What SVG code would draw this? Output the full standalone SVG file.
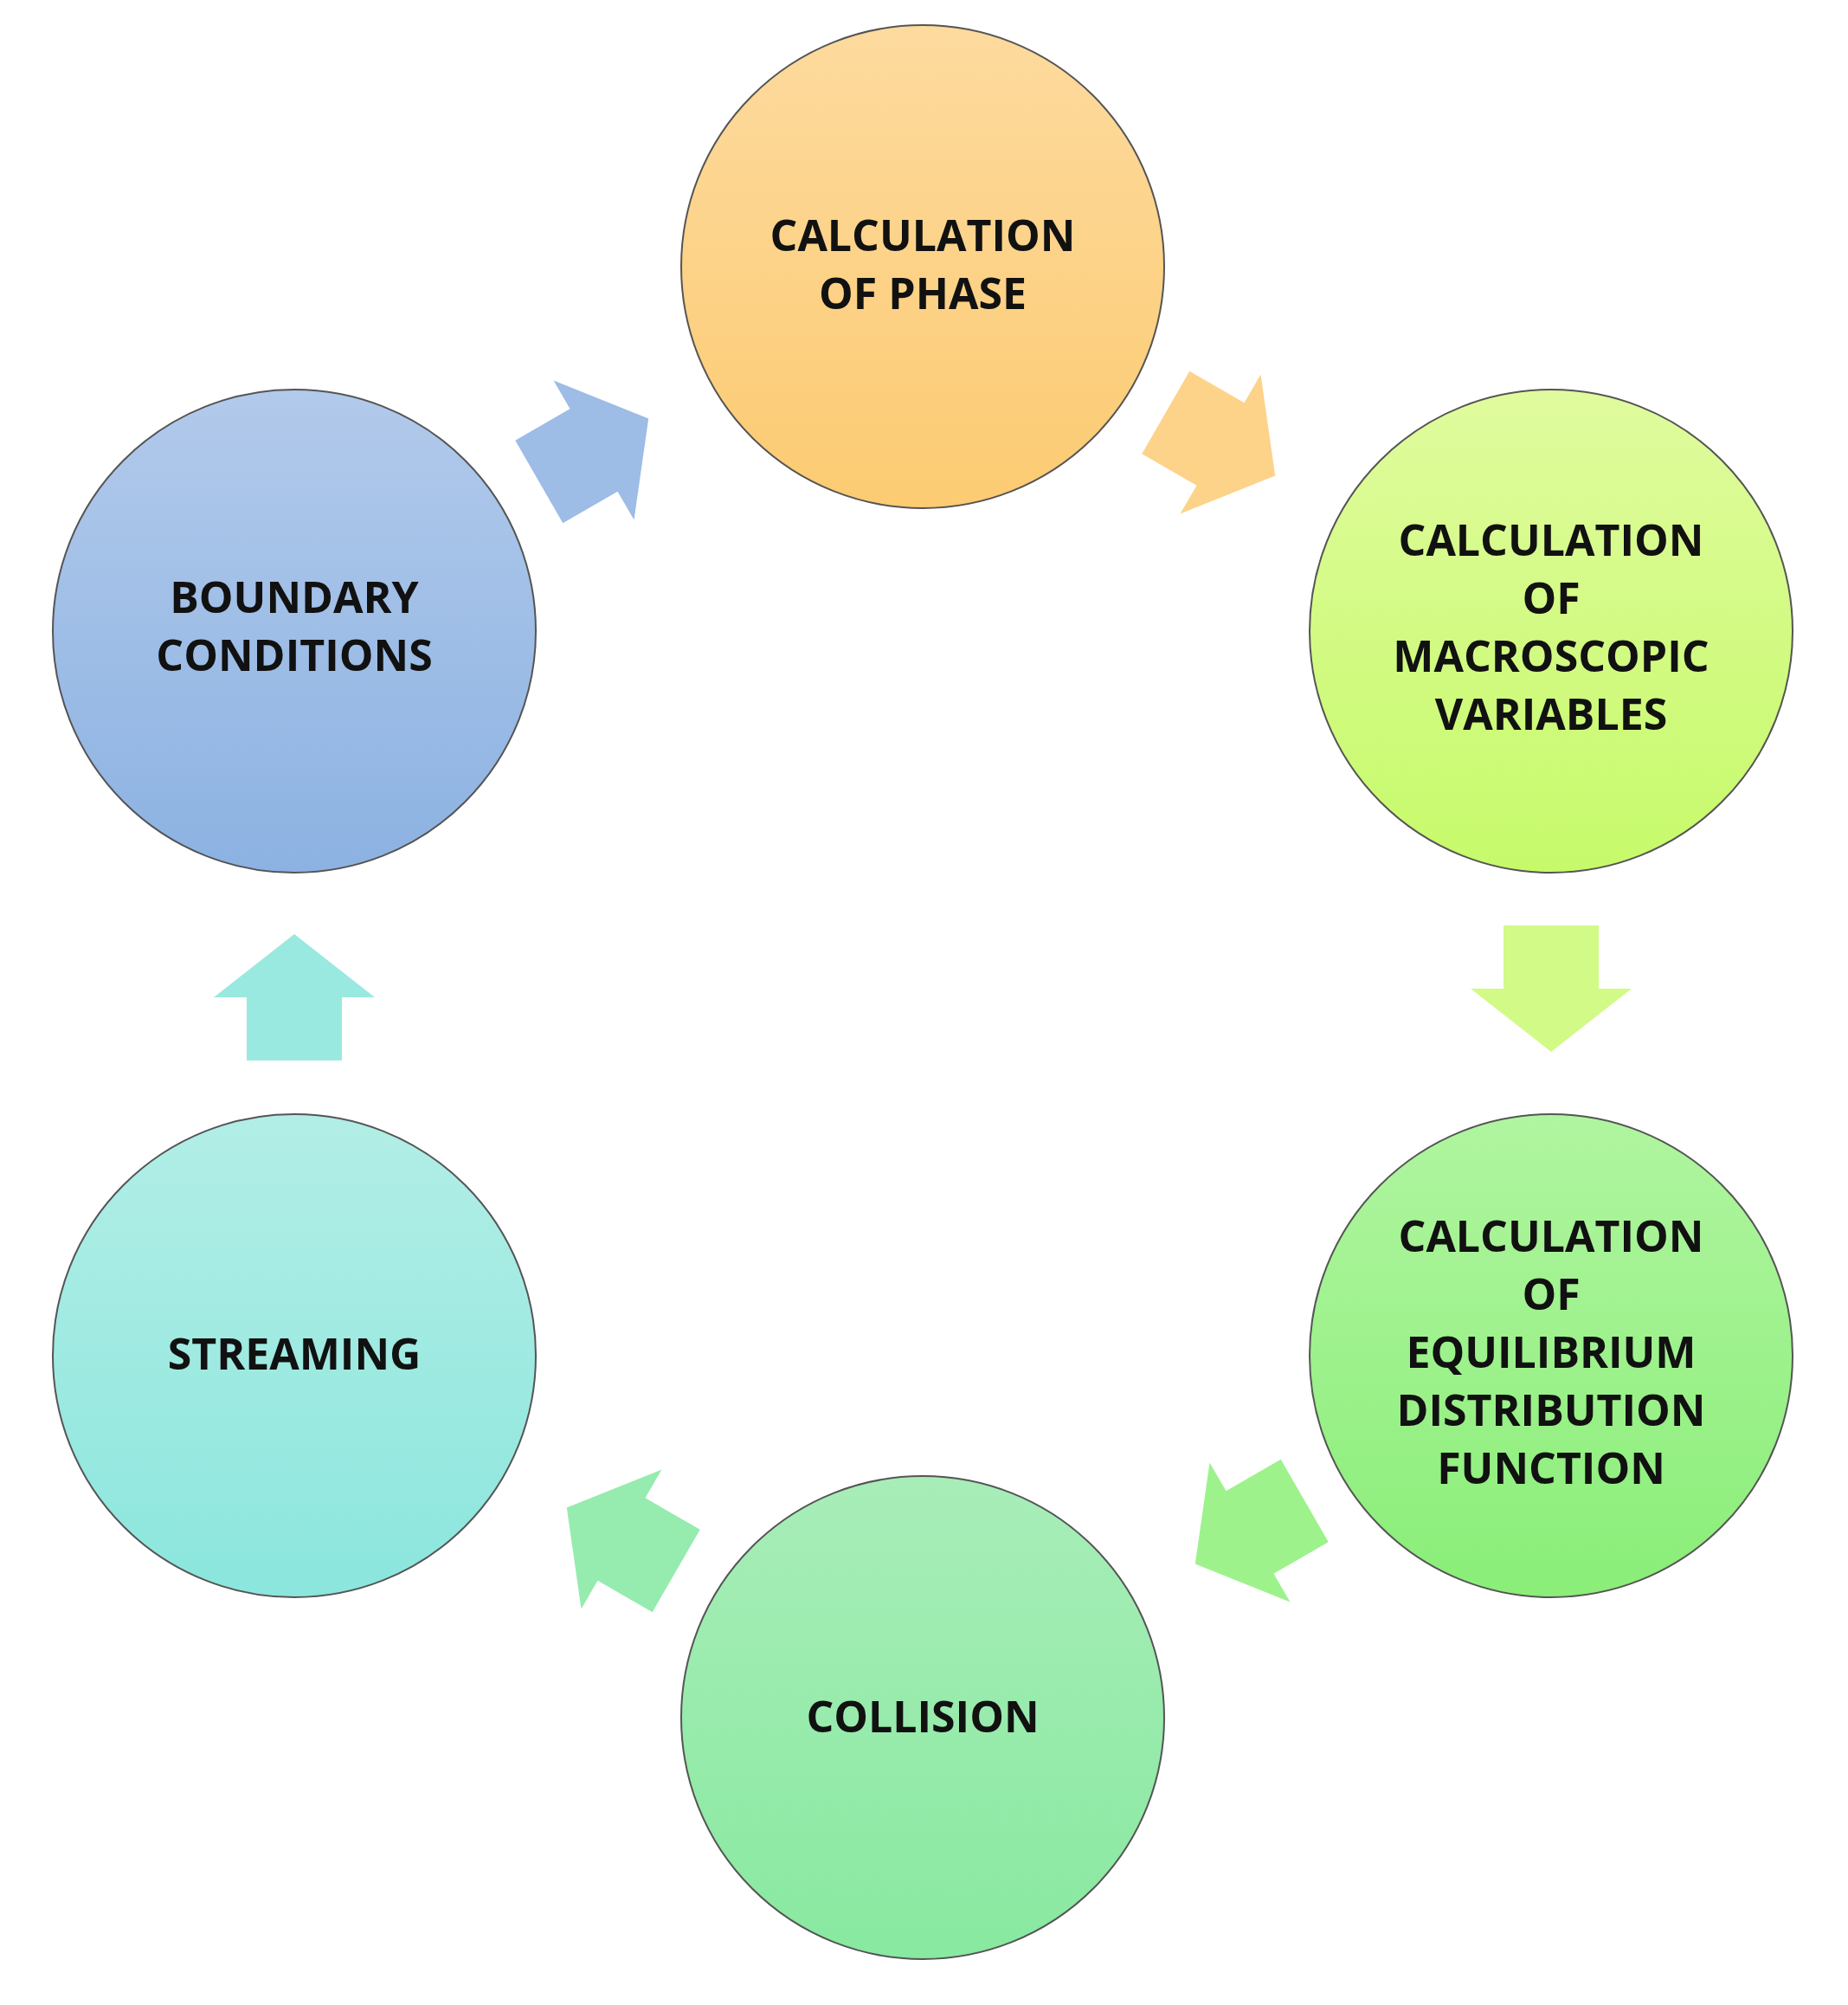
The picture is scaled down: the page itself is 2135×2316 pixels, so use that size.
<svg xmlns="http://www.w3.org/2000/svg" width="2135" height="2316" viewBox="0 0 2135 2316">
<style>
.c{stroke:#555;stroke-width:2}
.t{font-family:"Open Sans","Liberation Sans",sans-serif;font-weight:bold;font-size:50px;fill:#111;text-anchor:middle}
</style>
<defs>
<linearGradient id="g1" x1="0" y1="0" x2="0" y2="1"><stop offset="0" stop-color="#FDDA9E"/><stop offset="1" stop-color="#FCCB72"/></linearGradient>
<linearGradient id="g2" x1="0" y1="0" x2="0" y2="1"><stop offset="0" stop-color="#E0FB9E"/><stop offset="1" stop-color="#C6FA6A"/></linearGradient>
<linearGradient id="g3" x1="0" y1="0" x2="0" y2="1"><stop offset="0" stop-color="#B0F5A0"/><stop offset="1" stop-color="#8AEE78"/></linearGradient>
<linearGradient id="g4" x1="0" y1="0" x2="0" y2="1"><stop offset="0" stop-color="#A8EDB8"/><stop offset="1" stop-color="#88E9A0"/></linearGradient>
<linearGradient id="g5" x1="0" y1="0" x2="0" y2="1"><stop offset="0" stop-color="#B2EEE6"/><stop offset="1" stop-color="#8BE6DD"/></linearGradient>
<linearGradient id="g6" x1="0" y1="0" x2="0" y2="1"><stop offset="0" stop-color="#B2CAEB"/><stop offset="1" stop-color="#8CB2E2"/></linearGradient>
<path id="arr" d="M-73,-55 H0 V-93 L73,0 L0,93 V55 H-73 Z"/>
</defs>
<g id="connectors">
<use href="#arr" fill="#9DBCE6" transform="translate(686,520) rotate(-30)"/>
<use href="#arr" fill="#FDD38A" transform="translate(1410,513) rotate(30)"/>
<use href="#arr" fill="#D2FA86" transform="translate(1792,1142) rotate(90)"/>
<use href="#arr" fill="#9DF28C" transform="translate(1444,1770) rotate(150)"/>
<use href="#arr" fill="#96EBAE" transform="translate(718,1778) rotate(210)"/>
<use href="#arr" fill="#9AE9E0" transform="translate(340,1152) rotate(-90)"/>
</g>
<g id="phase"><circle class="c" cx="1066" cy="308" r="279" fill="url(#g1)"/><text class="t" x="1066" y="290">CALCULATION</text><text class="t" x="1066" y="357">OF PHASE</text></g>
<g id="macro"><circle class="c" cx="1792" cy="729" r="279" fill="url(#g2)"/><text class="t" x="1792" y="642">CALCULATION</text><text class="t" x="1792" y="709">OF</text><text class="t" x="1792" y="776">MACROSCOPIC</text><text class="t" x="1792" y="843">VARIABLES</text></g>
<g id="equil"><circle class="c" cx="1792" cy="1566" r="279" fill="url(#g3)"/><text class="t" x="1792" y="1446">CALCULATION</text><text class="t" x="1792" y="1513">OF</text><text class="t" x="1792" y="1580">EQUILIBRIUM</text><text class="t" x="1792" y="1647">DISTRIBUTION</text><text class="t" x="1792" y="1714">FUNCTION</text></g>
<g id="collision"><circle class="c" cx="1066" cy="1984" r="279" fill="url(#g4)"/><text class="t" x="1066" y="2001">COLLISION</text></g>
<g id="streaming"><circle class="c" cx="340" cy="1566" r="279" fill="url(#g5)"/><text class="t" x="340" y="1582">STREAMING</text></g>
<g id="boundary"><circle class="c" cx="340" cy="729" r="279" fill="url(#g6)"/><text class="t" x="340" y="708">BOUNDARY</text><text class="t" x="340" y="775">CONDITIONS</text></g>
</svg>
